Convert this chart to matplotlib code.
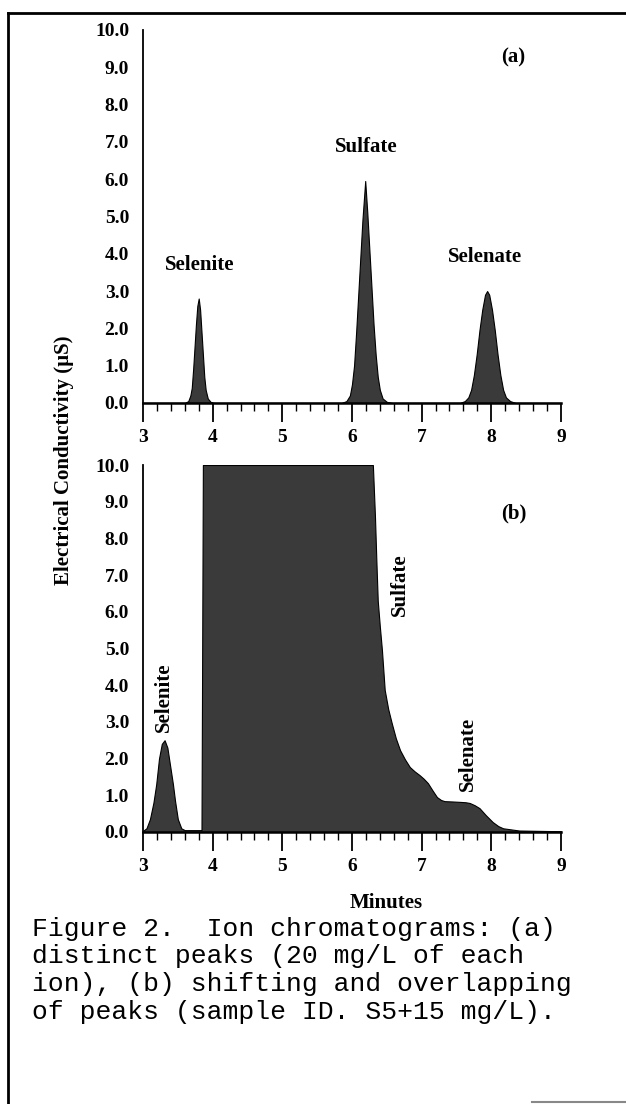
import matplotlib
matplotlib.use('Agg')
from matplotlib import pyplot as plt
from matplotlib.lines import Line2D
from matplotlib.ticker import MultipleLocator

# (a) distinct peaks, 20 mg/L of each ion
time_a = [3.00, 3.60, 3.65, 3.68, 3.70, 3.72, 3.74, 3.76, 3.78, 3.80, 3.82, 3.84, 3.86, 3.88, 3.90,
          3.93, 3.97, 4.02,
          5.85, 5.92, 5.97, 6.00, 6.03, 6.06, 6.09, 6.12, 6.15, 6.19, 6.22, 6.25, 6.28, 6.31, 6.34,
          6.37, 6.40, 6.44, 6.50, 6.58,
          7.55, 7.62, 7.67, 7.71, 7.75, 7.79, 7.83, 7.87, 7.91, 7.94, 7.97, 8.01, 8.05, 8.09, 8.13,
          8.17, 8.21, 8.27, 8.35, 9.00]
cond_a = [0.0, 0.0, 0.05, 0.2, 0.4, 0.9, 1.5, 2.1, 2.6, 2.8, 2.5, 1.9, 1.3, 0.7, 0.35,
          0.12, 0.03, 0.0,
          0.0, 0.05, 0.2, 0.5, 1.0, 1.9, 2.9, 3.9, 4.9, 5.95, 5.1, 4.1, 3.1, 2.1, 1.3,
          0.7, 0.35, 0.12, 0.03, 0.0,
          0.0, 0.05, 0.15, 0.35, 0.75, 1.3, 1.95, 2.5, 2.9, 3.0, 2.9, 2.5, 1.95, 1.3, 0.75,
          0.35, 0.15, 0.05, 0.0, 0.0]

# (b) shifting and overlapping peaks, sample S5+15 mg/L (sulfate is off scale)
time_b = [3.00, 3.05, 3.10, 3.15, 3.19, 3.23, 3.27, 3.31, 3.35, 3.39, 3.43, 3.46, 3.50, 3.55, 3.60,
          3.84, 3.86, 6.30, 6.33, 6.35, 6.37, 6.40, 6.43, 6.47, 6.52, 6.57, 6.63, 6.69, 6.76, 6.83,
          6.90, 6.97, 7.03, 7.09, 7.16, 7.22, 7.28, 7.33, 7.45, 7.55, 7.63, 7.69, 7.76, 7.83, 7.92,
          8.02, 8.10, 8.17, 8.40, 9.00]
cond_b = [0.03, 0.1, 0.35, 0.8, 1.3, 2.0, 2.4, 2.5, 2.3, 1.8, 1.3, 0.85, 0.35, 0.1, 0.05,
          0.05, 10.0, 10.0, 8.6, 7.4, 6.3, 5.6, 4.96, 3.87, 3.35, 2.97, 2.55, 2.23, 1.98, 1.77,
          1.65, 1.55, 1.45, 1.33, 1.12, 0.95, 0.87, 0.84, 0.83, 0.82, 0.81, 0.79, 0.73, 0.65, 0.46,
          0.27, 0.16, 0.10, 0.04, 0.02]

yticks = [0, 1, 2, 3, 4, 5, 6, 7, 8, 9, 10]
xticks = [3, 4, 5, 6, 7, 8, 9]

# labels: (text, time, conductivity, rotation)
labels_a = [('Selenite', 3.82, 3.7, 0), ('Sulfate', 6.2, 6.86, 0),
            ('Selenate', 7.91, 3.91, 0), ('(a)', 8.32, 9.27, 0)]
labels_b = [('Selenite', 3.30, 3.68, 90), ('Sulfate', 6.69, 6.73, 90),
            ('Selenate', 7.67, 2.12, 90), ('(b)', 8.32, 8.69, 0)]

caption = ['Figure 2.  Ion chromatograms: (a)',
           'distinct peaks (20 mg/L of each',
           'ion), (b) shifting and overlapping',
           'of peaks (sample ID. S5+15 mg/L).']

serif = 'Liberation Serif'
fs = 14
fs_lab = 15
fill_color = '#3a3a3a'

fig = plt.figure(figsize=(6.26, 11.04), dpi=100)
ax_a = fig.add_axes([0.2284, 0.6350, 0.6677, 0.3379])
ax_b = fig.add_axes([0.2284, 0.2464, 0.6677, 0.3324])

for ax, t, c, labs in [(ax_a, time_a, cond_a, labels_a), (ax_b, time_b, cond_b, labels_b)]:
    ax.fill_between(t, c, 0, color=fill_color, edgecolor='black', linewidth=0.8)
    ax.set_xlim(3, 9)
    ax.set_ylim(0, 10)
    ax.spines['top'].set_visible(False)
    ax.spines['right'].set_visible(False)
    ax.spines['left'].set_linewidth(1.3)
    ax.spines['bottom'].set_linewidth(1.8)
    ax.set_xticks(xticks)
    ax.set_xticklabels([str(v) for v in xticks], fontfamily=serif, fontweight='bold', fontsize=fs)
    ax.set_yticks(yticks)
    ax.set_yticklabels(['%.1f' % v for v in yticks], fontfamily=serif, fontweight='bold', fontsize=fs)
    ax.xaxis.set_minor_locator(MultipleLocator(0.2))
    ax.tick_params(axis='x', which='major', direction='out', length=14, width=1.3, pad=5)
    ax.tick_params(axis='x', which='minor', direction='out', length=6, width=1.0)
    ax.tick_params(axis='y', which='both', length=0, pad=10)
    for txt, x, y, rot in labs:
        ax.text(x, y, txt, rotation=rot, ha='center', va='center',
                fontfamily=serif, fontweight='bold', fontsize=fs_lab)

fig.text(0.102, 0.583, 'Electrical Conductivity (\u00b5S)', rotation=90, ha='center', va='center',
         fontfamily=serif, fontweight='bold', fontsize=fs_lab)
fig.text(0.617, 1 - 903 / 1104, 'Minutes', ha='center', va='center',
         fontfamily=serif, fontweight='bold', fontsize=fs_lab)

for i, line in enumerate(caption):
    fig.text(32 / 626, 1 - (929 + 27.5 * i) / 1104, line, ha='left', va='center',
             fontfamily='Liberation Mono', fontsize=19)

# page border
fig.add_artist(Line2D([8 / 626, 8 / 626], [0, 1 - 13 / 1104], color='black', linewidth=2))
fig.add_artist(Line2D([8 / 626, 1], [1 - 13 / 1104, 1 - 13 / 1104], color='black', linewidth=2))
fig.add_artist(Line2D([532 / 626, 1], [2 / 1104, 2 / 1104], color='#888888', linewidth=1.5))

fig.savefig('out.png', dpi=100)
